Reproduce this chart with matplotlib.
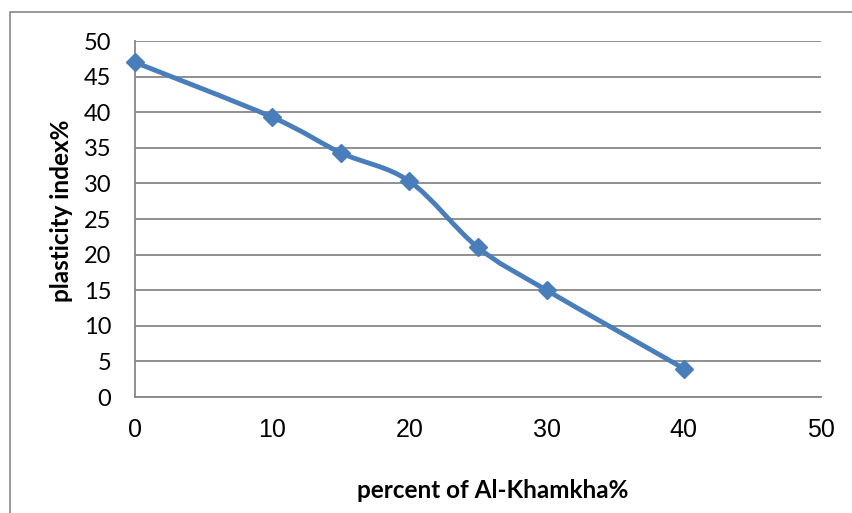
import matplotlib

matplotlib.use("Agg")

import matplotlib.pyplot as plt
import numpy as np
from matplotlib.patches import PathPatch, Rectangle
from matplotlib.path import Path

percent = [0, 10, 15, 20, 25, 30, 40]
plasticity = [47.0, 39.3, 34.3, 30.3, 21.0, 15.0, 4.0]
x_ticks = [0, 10, 20, 30, 40, 50]
y_ticks = [0, 5, 10, 15, 20, 25, 30, 35, 40, 45, 50]

BLUE = "#4A7EBB"
GRID = "#878787"

W, H = 853, 513
fig = plt.figure(figsize=(W / 100, H / 100), dpi=100)
ax = fig.add_axes([135 / W, (H - 397) / H, (821 - 135) / W, (397 - 41) / H])

# outer chart border (only top/left visible in the crop)
fig.patches.append(Rectangle((10 / W, -0.2), 1.2, 1.2 - 12 / H, transform=fig.transFigure,
                             fill=False, edgecolor=GRID, linewidth=1.2, clip_on=False))


def smooth_path(xs, ys):
    # Excel-like smoothed line: cubic bezier, catmull-rom style control points
    pts = np.column_stack([xs, ys]).astype(float)
    n = len(pts)
    verts = [pts[0]]
    codes = [Path.MOVETO]
    for i in range(n - 1):
        p_prev = pts[i - 1] if i > 0 else pts[i]
        p_next2 = pts[i + 2] if i + 2 < n else pts[i + 1]
        c1 = pts[i] + (pts[i + 1] - p_prev) / 6.0
        c2 = pts[i + 1] - (p_next2 - pts[i]) / 6.0
        verts += [c1, c2, pts[i + 1]]
        codes += [Path.CURVE4] * 3
    return Path(verts, codes)


ax.add_patch(PathPatch(smooth_path(percent, plasticity), fill=False, edgecolor=BLUE,
                       linewidth=3.5, capstyle="round", joinstyle="round", zorder=3))
ax.plot(percent, plasticity, linestyle="none", marker="D", markersize=9.5,
        color=BLUE, zorder=4, clip_on=False)

ax.set_xlim(0, 50)
ax.set_ylim(0, 50)
ax.set_xticks(x_ticks)
ax.set_yticks(y_ticks)
ax.set_xticklabels([str(v) for v in x_ticks], fontfamily="Liberation Sans", fontsize=18)
ax.set_yticklabels([str(v) for v in y_ticks], fontfamily="Lato", fontsize=17)
ax.tick_params(axis="y", length=0, pad=17)
ax.tick_params(axis="x", length=0, pad=15)
ax.grid(axis="y", color=GRID, linewidth=1.3)
ax.set_axisbelow(True)
for s in ["top", "right"]:
    ax.spines[s].set_visible(False)
ax.spines["left"].set_color(GRID)
ax.spines["bottom"].set_color(GRID)
ax.spines["left"].set_linewidth(1.3)
ax.spines["bottom"].set_linewidth(1.3)

fig.text(493 / W, 1 - 490 / H, "percent of Al-Khamkha%", ha="center", va="center",
         fontfamily="Lato", fontweight="bold", fontsize=17.5)
fig.text(62 / W, 1 - 211 / H, "plasticity index%", ha="center", va="center", rotation=90,
         fontfamily="Lato", fontweight="bold", fontsize=17.5)

fig.savefig("out.png", dpi=100)
